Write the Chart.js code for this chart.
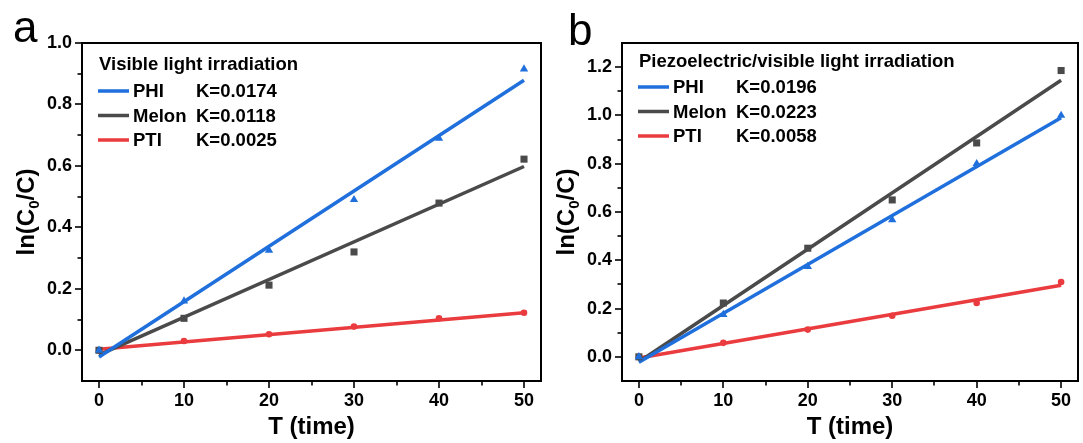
<!DOCTYPE html>
<html>
<head>
<meta charset="utf-8">
<script src="https://cdn.jsdelivr.net/npm/chart.js@4.4.0/dist/chart.umd.min.js"></script>
<style>
  body { margin: 0; background: #fff; }
  #wrap { position: relative; width: 1083px; height: 443px; overflow: hidden; font-family: 'Liberation Sans', Arial, sans-serif; }
  canvas { position: absolute; top: 0; }
  #chartA { left: 0; }
  #chartB { left: 548px; }
  .letter { position: absolute; font-size: 44px; line-height: 44px; color: #000; }
</style>
</head>
<body>
<div id="wrap">
  <canvas id="chartA" width="548" height="443"></canvas>
  <canvas id="chartB" width="535" height="443"></canvas>
  <div class="letter" style="left:13px; top:5px;">a</div>
  <div class="letter" style="left:568px; top:8px;">b</div>
</div>
<script>
// ---------- data ----------
const times = [0, 10, 20, 30, 40, 50];
const fitTimes = [0, 50];
const seriesNames = ['PHI', 'Melon', 'PTI'];

// panel a : visible light
const titleA = 'Visible light irradiation';
const kA = ['K=0.0174', 'K=0.0118', 'K=0.0025'];
const phiA = [0.0, 0.16, 0.325, 0.49, 0.69, 0.915];
const melonA = [0.0, 0.104, 0.212, 0.32, 0.479, 0.622];
const ptiA = [0.0, 0.030, 0.052, 0.077, 0.104, 0.122];
const phiFitA = [-0.022, 0.879];
const melonFitA = [-0.015, 0.598];
const ptiFitA = [0.003, 0.122];

// panel b : piezoelectric + visible light
const titleB = 'Piezoelectric/visible light irradiation';
const kB = ['K=0.0196', 'K=0.0223', 'K=0.0058'];
const phiB = [0.0, 0.175, 0.374, 0.567, 0.80, 1.0];
const melonB = [0.0, 0.223, 0.45, 0.65, 0.886, 1.186];
const ptiB = [0.0, 0.058, 0.113, 0.17, 0.223, 0.31];
const phiFitB = [-0.022, 0.99];
const melonFitB = [-0.02, 1.146];
const ptiFitB = [-0.005, 0.297];

// ticks
const xTicks = [0, 5, 10, 15, 20, 25, 30, 35, 40, 45, 50];
const xTickLabels = ['0', '', '10', '', '20', '', '30', '', '40', '', '50'];
const yTicksA = [0, 0.1, 0.2, 0.3, 0.4, 0.5, 0.6, 0.7, 0.8, 0.9, 1.0];
const yTickLabelsA = ['0.0', '', '0.2', '', '0.4', '', '0.6', '', '0.8', '', '1.0'];
const yTicksB = [0, 0.1, 0.2, 0.3, 0.4, 0.5, 0.6, 0.7, 0.8, 0.9, 1.0, 1.1, 1.2];
const yTickLabelsB = ['0.0', '', '0.2', '', '0.4', '', '0.6', '', '0.8', '', '1.0', '', '1.2'];

// ---------- style ----------
const colors = ['#1f6fdc', '#4a4a4a', '#ea3b3e'];
const markers = ['triangle', 'rect', 'circle'];
const markerSize = [4.8, 5, 3.3];
const FONT = "'Liberation Sans', Arial, sans-serif";

function toPoints(xs, ys) {
    return xs.map((x, i) => ({ x: x, y: ys[i] }));
}

function buildDatasets(points, fits) {
    const ds = [];
    // markers first so they sit on top
    points.forEach((p, i) => {
        ds.push({
            label: seriesNames[i],
            data: toPoints(times, p),
            showLine: false,
            pointStyle: markers[i],
            pointRadius: markerSize[i],
            pointBackgroundColor: colors[i],
            pointBorderWidth: 0
        });
    });
    fits.forEach((f, i) => {
        ds.push({
            label: seriesNames[i] + ' fit',
            data: toPoints(fitTimes, f),
            showLine: true,
            borderColor: colors[i],
            borderWidth: 3.5,
            pointRadius: 0
        });
    });
    return ds;
}

// frame on top/right, outward ticks (short ones are minor) and y title with subscript
const framePlugin = {
    id: 'frame',
    afterDraw(chart) {
        const { ctx, chartArea: a, scales } = chart;
        ctx.save();
        ctx.strokeStyle = '#000';
        ctx.lineWidth = 2;
        ctx.beginPath();
        ctx.moveTo(a.left, a.top);
        ctx.lineTo(a.right, a.top);
        ctx.lineTo(a.right, a.bottom);
        ctx.stroke();

        ctx.lineWidth = 1.6;
        scales.x.ticks.forEach(t => {
            const px = Math.round(scales.x.getPixelForValue(t.value));
            const len = t.label ? 6 : 3.5;
            ctx.beginPath();
            ctx.moveTo(px, a.bottom);
            ctx.lineTo(px, a.bottom + 1 + len);
            ctx.stroke();
        });
        scales.y.ticks.forEach(t => {
            const py = Math.round(scales.y.getPixelForValue(t.value));
            const len = t.label ? 6 : 3.5;
            ctx.beginPath();
            ctx.moveTo(a.left, py);
            ctx.lineTo(a.left - 1 - len, py);
            ctx.stroke();
        });

        // y axis title ln(C0/C)
        ctx.translate(a.left - 57, (a.top + a.bottom) / 2);
        ctx.rotate(-Math.PI / 2);
        ctx.fillStyle = '#000';
        ctx.textBaseline = 'alphabetic';
        const big = 'bold 24px ' + FONT;
        const small = 'bold 15px ' + FONT;
        const parts = [['ln(C', big, 0], ['0', small, 5], ['/C)', big, 0]];
        let total = 0;
        parts.forEach(p => { ctx.font = p[1]; total += ctx.measureText(p[0]).width; });
        let x = -total / 2;
        parts.forEach(p => {
            ctx.font = p[1];
            ctx.fillText(p[0], x, 8.6 + p[2]);
            x += ctx.measureText(p[0]).width;
        });
        ctx.restore();
    }
};

// legend box inside the plot area, like the original figure
const legendPlugin = {
    id: 'boxLegend',
    afterDraw(chart, args, opts) {
        const { ctx, chartArea: a } = chart;
        ctx.save();
        ctx.fillStyle = '#000';
        ctx.textBaseline = 'middle';
        ctx.font = 'bold 18.5px ' + FONT;
        ctx.fillText(opts.title, a.left + 17, a.top + opts.titleDy);
        opts.names.forEach((name, i) => {
            const y = a.top + opts.rowDy + i * 24.5;
            ctx.strokeStyle = colors[i];
            ctx.lineWidth = 3.5;
            ctx.beginPath();
            ctx.moveTo(a.left + 16, y);
            ctx.lineTo(a.left + 47, y);
            ctx.stroke();
            const nx = a.left + 51;
            ctx.fillText(name, nx, y + 1);
            const w = ctx.measureText(name).width;
            ctx.fillText(opts.ks[i], nx + Math.max(63, w + 6), y + 1);
        });
        ctx.restore();
    }
};

function makeChart(id, points, fits, yMax, yTicks, yLabels, yWidth, padRight, legend) {
    return new Chart(document.getElementById(id), {
        type: 'scatter',
        data: { datasets: buildDatasets(points, fits) },
        plugins: [framePlugin, legendPlugin],
        options: {
            responsive: false,
            animation: false,
            layout: { padding: { top: 43, right: padRight, left: 0, bottom: 0 } },
            plugins: {
                legend: { display: false },
                tooltip: { enabled: false },
                boxLegend: legend
            },
            scales: {
                x: {
                    type: 'linear',
                    min: -2,
                    max: 52,
                    afterBuildTicks: s => { s.ticks = xTicks.map(v => ({ value: v })); },
                    afterFit: s => { s.height = 62; },
                    grid: { drawOnChartArea: false, drawTicks: false },
                    border: { display: true, color: '#000', width: 2 },
                    ticks: {
                        color: '#000',
                        padding: 9,
                        maxRotation: 0,
                        font: { family: FONT, size: 18, weight: 'bold' },
                        callback: (v, i) => xTickLabels[i]
                    },
                    title: {
                        display: true,
                        text: 'T (time)',
                        color: '#000',
                        font: { family: FONT, size: 24, weight: 'bold' },
                        padding: { top: 0, bottom: 1 }
                    }
                },
                y: {
                    type: 'linear',
                    min: -0.1,
                    max: yMax,
                    afterBuildTicks: s => { s.ticks = yTicks.map(v => ({ value: v })); },
                    afterFit: s => { s.width = yWidth; },
                    grid: { drawOnChartArea: false, drawTicks: false },
                    border: { display: true, color: '#000', width: 2 },
                    ticks: {
                        color: '#000',
                        padding: 10,
                        font: { family: FONT, size: 18, weight: 'bold' },
                        callback: (v, i) => yLabels[i]
                    }
                }
            }
        }
    });
}

makeChart('chartA', [phiA, melonA, ptiA], [phiFitA, melonFitA, ptiFitA],
    1.0, yTicksA, yTickLabelsA, 82, 7,
    { title: titleA, names: seriesNames, ks: kA, titleDy: 21.5, rowDy: 48 });

makeChart('chartB', [phiB, melonB, ptiB], [phiFitB, melonFitB, ptiFitB],
    1.3, yTicksB, yTickLabelsB, 74, 2,
    { title: titleB, names: seriesNames, ks: kB, titleDy: 19, rowDy: 44 });
</script>
</body>
</html>
